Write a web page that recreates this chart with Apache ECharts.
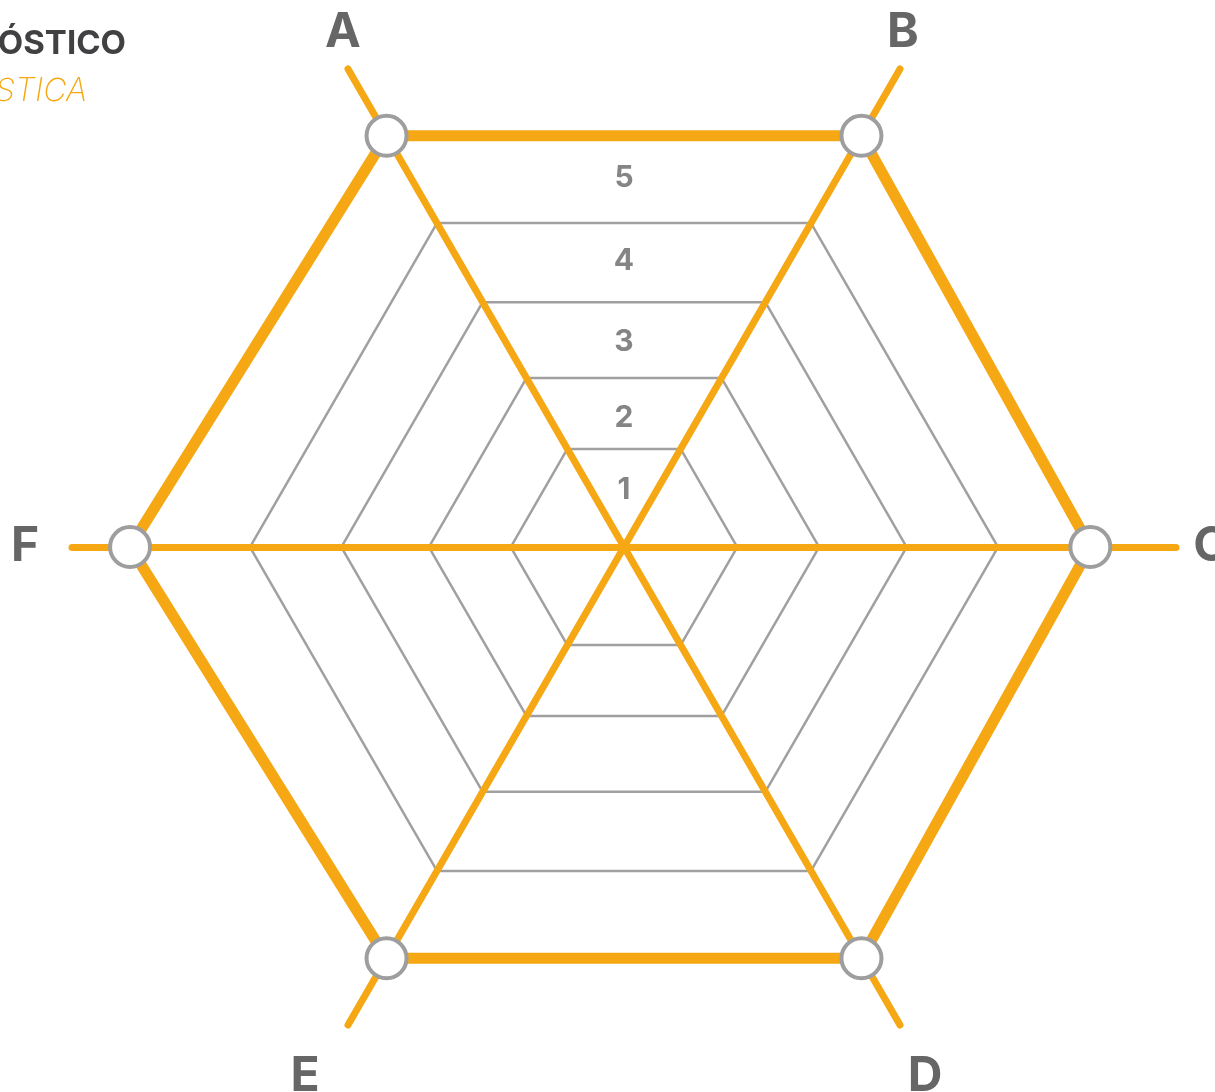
<!DOCTYPE html>
<html>
<head>
<meta charset="utf-8">
<script src="https://cdn.jsdelivr.net/npm/echarts@6/dist/echarts.min.js"></script>
<style>
  html, body { margin: 0; padding: 0; background: #fff; }
  #chart { width: 1215px; height: 1092px; }
</style>
</head>
<body>
<div id="chart"></div>
<script>
// categorias (ejes) y valores
var categories = ['A', 'B', 'C', 'D', 'E', 'F'];
var values = [4.99, 4.99, 4.9, 4.99, 4.99, 5.19];
// niveles de la red gris
var ringLevels = [1.19, 2.05, 2.97, 3.93];
// etiquetas de nivel y su posicion radial
var levelLabels = ['1', '2', '3', '4', '5'];
var levelPos = [0.6, 1.36, 2.15, 3.0, 3.88];
var axisMax = 5.8;

var orange = '#F6A814';
var grey = '#666666';

// radar de echarts va en sentido antihorario: A, F, E, D, C, B
var order = [0, 5, 4, 3, 2, 1];
var indicator = order.map(function (i) {
  return { name: categories[i], min: 0, max: axisMax };
});
var dataValues = order.map(function (i) { return values[i]; });

// pequeno ajuste de posicion de cada nombre de eje
var namePad = {
  A: [0, 0, 0, 32],
  B: [0, 36, 0, 0],
  C: [0, 14, 0, 0],
  D: [30, 0, 0, 8],
  E: [30, 44, 0, 0],
  F: [0, 10, 0, 0]
};
var nameRich = {};
categories.forEach(function (c) {
  nameRich[c] = {
    fontFamily: 'Inter', fontWeight: 700, fontSize: 48, color: grey,
    padding: namePad[c]
  };
});

var myChart = echarts.init(document.getElementById('chart'));

var option = {
  animation: false,
  title: [
    {
      text: 'DIAGNÓSTICO',
      left: 121,
      top: 23,
      textAlign: 'right',
      textStyle: { fontFamily: 'Inter', fontWeight: 700, fontSize: 33, color: '#414042' }
    },
    {
      text: 'CARACTERÍSTICA',
      left: 82,
      top: 70,
      textAlign: 'right',
      textStyle: { fontFamily: 'Inter', fontWeight: 200, fontStyle: 'italic', fontSize: 32, color: orange }
    }
  ],
  radar: {
    z: 2,
    center: [624, 547],
    radius: 552,
    startAngle: 120,
    shape: 'polygon',
    indicator: indicator,
    nameGap: 42,
    axisName: {
      color: grey,
      fontFamily: 'Inter',
      fontWeight: 700,
      fontSize: 48,
      align: 'center',
      verticalAlign: 'middle',
      formatter: function (name) { return '{' + name + '|' + name + '}'; },
      rich: nameRich
    },
    axisLine: { lineStyle: { color: orange, width: 7 } },
    splitLine: { show: false },
    splitArea: { show: false },
    axisTick: { show: false },
    axisLabel: { show: false }
  },
  polar: { center: [624, 547], radius: 552 },
  radiusAxis: { min: 0, max: axisMax, show: false },
  angleAxis: { min: 0, max: 360, show: false },
  series: [
    {
      type: 'radar',
      z: 1,
      symbol: 'none',
      silent: true,
      lineStyle: { color: '#A0A0A0', width: 2.5 },
      data: ringLevels.map(function (v) {
        return { value: categories.map(function () { return v; }) };
      })
    },
    {
      type: 'radar',
      z: 3,
      symbol: 'circle',
      symbolSize: 40,
      itemStyle: { color: '#fff', borderColor: '#9E9E9E', borderWidth: 4 },
      lineStyle: { color: orange, width: 11 },
      data: [{ value: dataValues, name: 'valores' }]
    },
    {
      type: 'scatter',
      coordinateSystem: 'polar',
      z: 4,
      symbolSize: 1,
      itemStyle: { color: 'rgba(0,0,0,0)' },
      label: {
        show: true,
        position: 'inside',
        formatter: '{b}',
        fontFamily: 'Inter',
        fontWeight: 700,
        fontSize: 30,
        color: grey
      },
      data: levelLabels.map(function (t, i) {
        return { name: t, value: [levelPos[i], 0] };
      })
    }
  ]
};

myChart.setOption(option);
</script>
</body>
</html>
